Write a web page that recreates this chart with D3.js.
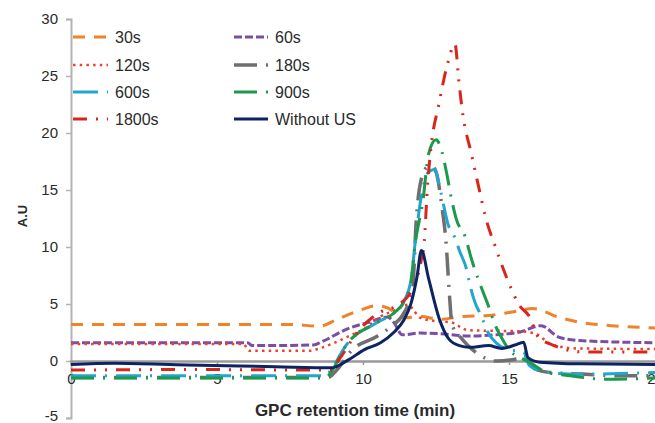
<!DOCTYPE html>
<html>
<head>
<meta charset="utf-8">
<script src="https://cdn.jsdelivr.net/npm/d3@7"></script>
<style>
  html, body { margin: 0; padding: 0; background: #fff; }
  svg { display: block; font-family: "Liberation Sans", Arial, sans-serif; }
</style>
</head>
<body>
<svg id="chart" width="655" height="423"></svg>
<script>
// ---------- data ----------
const xTicks = [0, 5, 10, 15, 20];
const yTicks = [-5, 0, 5, 10, 15, 20, 25, 30];
const seriesNames = ["30s", "60s", "120s", "180s", "600s", "900s", "1800s", "Without US"];

const s30 = [[0,3.2],[7.6,3.2],[8.5,3.05],[9.15,3.7],[9.95,4.5],[10.45,4.85],[10.85,4.65],[11.4,3.8],[12.0,3.9],[12.6,3.65],[13.4,3.9],[14.3,4.0],[15.1,4.3],[15.8,4.6],[16.7,3.85],[17.4,3.4],[18.5,3.1],[20,2.9]];
const s60 = [[0,1.6],[6.05,1.6],[6.2,1.35],[8.3,1.4],[8.6,1.7],[9.45,2.8],[10.2,3.4],[10.85,3.85],[11.05,3.4],[11.35,2.3],[11.95,2.45],[12.6,2.4],[13.6,2.2],[15.3,2.5],[16.1,3.1],[16.7,2.1],[17.4,1.8],[20,1.6]];
const s120 = [[0,1.5],[5.9,1.5],[6.1,0.9],[8.2,0.9],[8.5,1.1],[9.45,2.1],[10.15,3.0],[10.6,3.9],[11.15,4.5],[11.55,4.95],[11.72,4.5],[11.95,3.8],[12.5,3.5],[13.0,3.4],[13.6,2.7],[15.4,2.6],[15.9,2.4],[16.5,1.4],[17.4,1.1],[20,1.05]];
const s180 = [[0,-1.45],[8.8,-1.45],[9.1,-0.8],[9.6,0.9],[10.5,2.2],[11.0,3.1],[11.35,4.0],[11.7,6.3],[11.82,12.2],[12.0,16.0],[12.2,17.0],[12.35,17.1],[12.5,16.6],[12.7,13.6],[12.85,10.2],[12.95,6.2],[13.05,3.2],[13.4,1.9],[13.95,0.6],[14.55,0.0],[15.3,0.2],[15.5,0.5],[15.9,-0.7],[16.4,-1.0],[17.5,-1.15],[18.8,-1.3],[20,-1.3]];
const s600 = [[0,-1.3],[8.7,-1.3],[8.95,-0.6],[9.4,1.3],[10.5,3.4],[11.1,4.3],[11.4,5.2],[11.65,7.2],[11.8,10.7],[12.0,14.5],[12.25,16.6],[12.45,16.8],[12.64,15.1],[12.8,13.2],[12.9,12.1],[13.15,10.8],[13.3,9.7],[13.55,8.0],[13.66,6.7],[13.84,5.1],[14.06,3.9],[14.24,2.7],[14.58,1.55],[15.0,1.0],[15.5,0.8],[15.7,-0.4],[16.3,-1.0],[17.4,-1.15],[20,-1.0]];
const s900 = [[0,-1.5],[8.7,-1.5],[8.95,-0.8],[9.4,1.3],[10.5,3.4],[11.1,4.3],[11.4,5.2],[11.65,7.2],[11.8,10.5],[12.05,14],[12.25,18.2],[12.5,19.4],[12.7,18.4],[12.87,16.4],[13.04,14.1],[13.2,12.4],[13.5,10.9],[13.72,8.9],[14.0,6.8],[14.3,4.8],[14.5,3.3],[14.8,1.8],[15.0,1.0],[15.7,-0.1],[16.3,-1.0],[17.1,-1.3],[18.3,-1.6],[20,-1.5]];
const s1800 = [[0,-0.8],[4,-0.75],[8.9,-0.8],[9.2,0.2],[9.8,2.5],[10.6,4.3],[11.2,4.9],[11.75,6.6],[12.0,8.9],[12.1,10.5],[12.2,15],[12.35,19.2],[12.58,22.3],[12.87,25.8],[13.15,27.8],[13.28,24.6],[13.42,21.6],[13.7,18.3],[13.95,15.4],[14.2,12.6],[14.55,9.9],[15.05,6.5],[15.35,4.9],[15.7,3.9],[16.0,2.1],[16.5,1.4],[17.5,0.8],[20,0.8]];
const sNoUS = [[0,-0.3],[1.5,-0.2],[4,-0.35],[7,-0.5],[8.9,-0.6],[9.5,0.1],[10.05,1.0],[10.6,1.6],[11.05,2.5],[11.4,3.6],[11.65,5.1],[11.85,7.4],[12.0,9.7],[12.25,7.2],[12.6,3.8],[12.95,1.9],[13.3,1.35],[13.65,1.2],[14.3,1.35],[14.75,1.1],[15.2,1.4],[15.5,1.65],[15.65,0.3],[16.05,-0.1],[17.4,-0.25],[20,-0.3]];

const seriesData = [s30, s60, s120, s180, s600, s900, s1800, sNoUS];

// ---------- styles ----------
const styles = [
  { color: "#f0822a", width: 3,   dash: "12,9" },
  { color: "#7b4ea6", width: 3,   dash: "8,3" },
  { color: "#e8432c", width: 2.5, dash: "2.5,4.2" },
  { color: "#6f6f6f", width: 3.5, dash: "23,9,2,9" },
  { color: "#22a5cf", width: 3,   dash: "25,9,2,9" },
  { color: "#1b9a4b", width: 3,   dash: "23,9,2,9" },
  { color: "#d9261c", width: 3,   dash: "14,9,2,9,2,9" },
  { color: "#0d2463", width: 3,   dash: null }
];

const svg = d3.select("#chart");
const x = d3.scaleLinear().domain([0, 20]).range([71, 655]);
const y = d3.scaleLinear().domain([-5, 30]).range([418, 19]);
const fmt = d => String(d);

// y axis
const yAxis = d3.axisLeft(y).tickValues(yTicks).tickSize(5).tickPadding(8).tickFormat(fmt);
const gy = svg.append("g").attr("transform", `translate(${x(0)},0)`).call(yAxis);
gy.select(".domain").attr("stroke", "#b3b3b3").attr("stroke-width", 2);
gy.selectAll(".tick line").attr("stroke", "#b3b3b3").attr("stroke-width", 1.5);
gy.selectAll(".tick text").attr("fill", "#2a2a2a").attr("font-size", 15)
  .attr("font-family", "'Liberation Sans', Arial, sans-serif")
  .attr("y", d => d === -5 ? -2 : 0);

// x axis at y = 0
const xAxis = d3.axisBottom(x).tickValues(xTicks).tickSize(4).tickPadding(8).tickFormat(fmt);
const gx = svg.append("g").attr("transform", `translate(0,${y(0)})`).call(xAxis);
gx.select(".domain").attr("stroke", "#9a9a9a").attr("stroke-width", 2.5);
gx.selectAll(".tick line").attr("stroke", "#9a9a9a").attr("stroke-width", 1.5);
gx.selectAll(".tick text").attr("fill", "#2a2a2a").attr("font-size", 15)
  .attr("font-family", "'Liberation Sans', Arial, sans-serif");

// axis titles
svg.append("text")
  .attr("x", 355).attr("y", 416)
  .attr("text-anchor", "middle")
  .attr("font-size", 17).attr("font-weight", "bold").attr("fill", "#2a2a2a")
  .text("GPC retention time (min)");
svg.append("text")
  .attr("transform", "translate(27,216) rotate(-90)")
  .attr("text-anchor", "middle")
  .attr("font-size", 13).attr("font-weight", "bold").attr("fill", "#2a2a2a")
  .text("A.U");

// series
const line = d3.line().x(d => x(d[0])).y(d => y(d[1])).curve(d3.curveMonotoneX);
svg.append("g").selectAll("path")
  .data(seriesData)
  .join("path")
  .attr("d", d => line(d))
  .attr("fill", "none")
  .attr("stroke", (d, i) => styles[i].color)
  .attr("stroke-width", (d, i) => styles[i].width)
  .attr("stroke-dasharray", (d, i) => styles[i].dash)
  .attr("stroke-linejoin", "round");

// legend
const legX = [73, 234];
const legLen = [35, 34];
const legY = [37, 65, 92, 119];
const leg = svg.append("g").selectAll("g")
  .data(seriesNames)
  .join("g")
  .attr("transform", (d, i) => `translate(${legX[i % 2]},${legY[Math.floor(i / 2)]})`);
leg.append("line")
  .attr("x1", 0).attr("x2", (d, i) => legLen[i % 2])
  .attr("y1", 0).attr("y2", 0)
  .attr("stroke", (d, i) => styles[i].color)
  .attr("stroke-width", (d, i) => styles[i].width)
  .attr("stroke-dasharray", (d, i) => styles[i].dash);
leg.append("text")
  .attr("x", (d, i) => legLen[i % 2] + 7)
  .attr("y", 6)
  .attr("font-size", 16).attr("fill", "#2a2a2a")
  .text(d => d);
</script>
</body>
</html>
